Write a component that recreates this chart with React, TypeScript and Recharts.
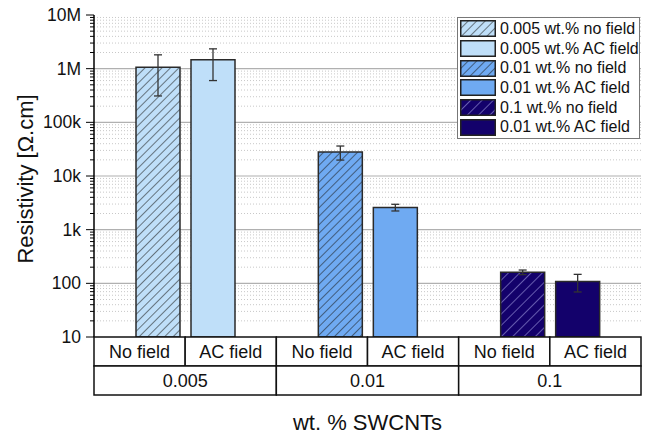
import React from "react";
import {
  Bar,
  BarChart,
  CartesianGrid,
  Cell,
  ErrorBar,
  Label,
  Legend,
  XAxis,
  YAxis,
} from "recharts";

const groups = ["0.005", "0.01", "0.1"];
const subLabels = ["No field", "AC field"];
const noField = [1.06e6, 2.8e4, 161];
const noFieldErr = [7.5e5, 8.2e3, 16];
const acField = [1.47e6, 2.6e3, 108];
const acFieldErr = [8.7e5, 370, 39];
const legendLabels = [
  "0.005 wt.% no field",
  "0.005 wt.% AC field",
  "0.01 wt.% no field",
  "0.01 wt.% AC field",
  "0.1 wt.% no field",
  "0.01 wt.% AC field",
];
const majorTicks = [10, 100, 1e3, 1e4, 1e5, 1e6, 1e7];
const majorLabels = ["10", "100", "1k", "10k", "100k", "1M", "10M"];

const fills = ["#bfdff9", "#6faaf2", "#13016b"];
const hatchInk = ["#1a1a1a", "#1a1a1a", "#a9a6e6"];
const hatchGap = [6, 6, 8];

const minorTicks: number[] = [];
majorTicks.slice(0, -1).forEach((d) => {
  for (let k = 2; k <= 9; k++) minorTicks.push(d * k);
});
const allTicks = [...majorTicks, ...minorTicks].sort((a, b) => a - b);

const data = groups.map((g, i) => ({
  group: g,
  noField: noField[i],
  noFieldErr: noFieldErr[i],
  acField: acField[i],
  acFieldErr: acFieldErr[i],
}));

const W = 649;
const H = 436;
const LEFT = 94;
const RIGHT = 8;
const band = (W - LEFT - RIGHT) / groups.length;
const font = "'Liberation Sans', Arial, sans-serif";

function HatchDefs({ prefix }: { prefix: string }) {
  return (
    <defs>
      {fills.map((f, i) => (
        <pattern
          key={i}
          id={`${prefix}${i}`}
          patternUnits="userSpaceOnUse"
          width={hatchGap[i]}
          height={hatchGap[i]}
          patternTransform="rotate(45)"
        >
          <rect width={hatchGap[i]} height={hatchGap[i]} fill={f} />
          <line x1={0} y1={0} x2={0} y2={hatchGap[i]} stroke={hatchInk[i]} strokeWidth={1.1} />
        </pattern>
      ))}
    </defs>
  );
}

const YTick = (props: any) => {
  const { x, y, payload } = props;
  const idx = majorTicks.indexOf(payload.value);
  const major = idx >= 0;
  return (
    <g>
      <line x1={x - (major ? 8 : 4)} x2={x} y1={y} y2={y} stroke="#000" strokeWidth={1} />
      {major && (
        <text x={x - 13} y={y} dy="0.35em" textAnchor="end" fontSize={17.5} fontFamily={font} fill="#111">
          {majorLabels[idx]}
        </text>
      )}
    </g>
  );
};

const XTick = (props: any) => {
  const { x, y, payload } = props;
  const left = x - band / 2;
  const half = band / 2;
  return (
    <g fontFamily={font} fontSize={18} fill="#111">
      {subLabels.map((s, i) => (
        <g key={s}>
          <rect x={left + i * half} y={y} width={half} height={29} fill="#fff" stroke="#111" strokeWidth={1.5} />
          <text x={left + i * half + half / 2} y={y + 15} dy="0.35em" textAnchor="middle">
            {s}
          </text>
        </g>
      ))}
      <rect x={left} y={y + 29} width={band} height={29} fill="#fff" stroke="#111" strokeWidth={1.5} />
      <text x={x} y={y + 44} dy="0.35em" textAnchor="middle">
        {payload.value}
      </text>
    </g>
  );
};

const LegendBox = () => (
  <div
    style={{
      background: "#fff",
      border: "1.5px solid #777",
      padding: "1px 2px",
      fontFamily: font,
      fontSize: 16,
      color: "#111",
    }}
  >
    {legendLabels.map((label, i) => {
      const g = Math.floor(i / 2);
      const hatched = i % 2 === 0;
      return (
        <div key={i} style={{ display: "flex", alignItems: "center", height: 19.7 }}>
          <svg width={36} height={17} style={{ flex: "none" }}>
            <HatchDefs prefix={`lg${i}_`} />
            <rect
              x={0.75}
              y={0.75}
              width={34.5}
              height={15.5}
              fill={hatched ? `url(#lg${i}_${g})` : fills[g]}
              stroke="#222"
              strokeWidth={1.5}
            />
          </svg>
          <span style={{ marginLeft: 4, whiteSpace: "nowrap", lineHeight: 1 }}>{label}</span>
        </div>
      );
    })}
  </div>
);

export default function App() {
  return (
    <div style={{ position: "absolute", left: 0, top: 0, width: W, height: H, background: "#fff" }}>
      <BarChart
        width={W}
        height={H}
        data={data}
        margin={{ top: 15, right: RIGHT, left: 0, bottom: 0 }}
        barSize={44}
        barGap={11}
      >
        <HatchDefs prefix="hatch" />
        <CartesianGrid
          vertical={false}
          horizontalValues={minorTicks}
          stroke="#c8c8c8"
          strokeDasharray="1 2"
        />
        <CartesianGrid
          vertical={false}
          horizontalValues={majorTicks.slice(1, -1)}
          stroke="#b0b0b0"
          strokeWidth={1.2}
        />
        <XAxis
          dataKey="group"
          height={99}
          tickSize={0}
          tickMargin={0}
          axisLine={false}
          tickLine={false}
          tick={<XTick />}
          interval={0}
        >
          <Label
            value="wt. % SWCNTs"
            position="insideBottom"
            offset={6}
            style={{ fontFamily: font, fontSize: 22, fill: "#111" }}
          />
        </XAxis>
        <YAxis
          type="number"
          scale="log"
          domain={[10, 1e7]}
          ticks={allTicks}
          interval={0}
          allowDataOverflow
          width={LEFT}
          tickSize={0}
          tickMargin={0}
          tickLine={false}
          tick={<YTick />}
          axisLine={{ stroke: "#000", strokeWidth: 1.5 }}
        >
          <Label
            content={() => (
              <text
                x={25}
                y={179}
                transform="rotate(-90 25 179)"
                textAnchor="middle"
                dominantBaseline="central"
                fontFamily={font}
                fontSize={22}
                fill="#111"
              >
                Resistivity [Ω.cm]
              </text>
            )}
          />
        </YAxis>
        <Bar dataKey="noField" stroke="#2a2a2a" strokeWidth={1.5} isAnimationActive={false}>
          {data.map((d, i) => (
            <Cell key={d.group} fill={`url(#hatch${i})`} />
          ))}
          <ErrorBar dataKey="noFieldErr" width={4} stroke="#333" strokeWidth={1.3} />
        </Bar>
        <Bar dataKey="acField" stroke="#2a2a2a" strokeWidth={1.5} isAnimationActive={false}>
          {data.map((d, i) => (
            <Cell key={d.group} fill={fills[i]} />
          ))}
          <ErrorBar dataKey="acFieldErr" width={4} stroke="#333" strokeWidth={1.3} />
        </Bar>
        <Legend
          layout="vertical"
          align="center"
          verticalAlign="middle"
          content={<LegendBox />}
          wrapperStyle={{ position: "absolute", top: 17, left: 457, width: 183, height: "auto" }}
        />
      </BarChart>
    </div>
  );
}
